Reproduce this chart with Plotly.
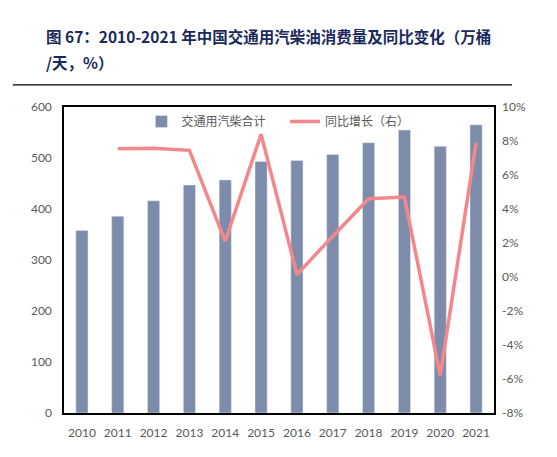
import plotly.graph_objects as go

years = ['2010', '2011', '2012', '2013', '2014', '2015',
         '2016', '2017', '2018', '2019', '2020', '2021']
consumption = [358, 386, 416, 447, 457, 493, 495, 507, 530, 555, 523, 565]
yoy_years = years[1:]
yoy_growth = [7.55, 7.58, 7.45, 2.1, 8.4, 0.15, 2.4, 4.6, 4.7, -5.8, 7.9]

left_ticks = [0, 100, 200, 300, 400, 500, 600]
right_ticks = [-8, -6, -4, -2, 0, 2, 4, 6, 8, 10]

title_lines = ['图 67：2010-2021 年中国交通用汽柴油消费量及同比变化（万桶', '/天，%）']

tick_font = {'family': 'Lato, Noto Sans CJK SC', 'size': 12, 'color': '#595959'}
legend_font = {'family': 'Noto Sans CJK SC', 'size': 12, 'color': '#595959'}
title_font = {'family': 'Noto Sans CJK SC', 'size': 15.5, 'color': '#1b2a5c'}

fig = go.Figure()

fig.add_trace(go.Bar(
    x=years,
    y=consumption,
    name='交通用汽柴合计',
    marker={'color': '#7d8cab'},
    width=0.34,
    legend='legend',
))

fig.add_trace(go.Scatter(
    x=yoy_years,
    y=yoy_growth,
    name='同比增长（右）',
    mode='lines',
    line={'color': '#f4878a', 'width': 3.5},
    yaxis='y2',
    legend='legend2',
))

# the page body has an 8px margin, so the plot box is set 8px up/left
fig.update_layout(
    width=557,
    height=457,
    margin={'l': 56, 'r': 71, 't': 99, 'b': 52, 'autoexpand': False},
    paper_bgcolor='white',
    plot_bgcolor='white',
    showlegend=True,
    legend={
        'x': 0.18, 'y': 1.0,
        'xanchor': 'left', 'yanchor': 'top',
        'font': legend_font,
        'bgcolor': 'rgba(0,0,0,0)',
        'itemwidth': 30,
    },
    legend2={
        'x': 0.514, 'y': 1.0,
        'xanchor': 'left', 'yanchor': 'top',
        'font': legend_font,
        'bgcolor': 'rgba(0,0,0,0)',
        'itemwidth': 30,
    },
    xaxis={
        'type': 'category',
        'tickfont': tick_font,
        'showline': True, 'linecolor': 'black', 'linewidth': 1.5,
        'mirror': True,
        'ticks': '',
        'showgrid': False,
        'automargin': False,
        'ticklabelstandoff': 8,
    },
    yaxis={
        'range': [0, 600],
        'tickvals': left_ticks,
        'tickfont': tick_font,
        'showline': True, 'linecolor': 'black', 'linewidth': 1.5,
        'mirror': True,
        'showgrid': False,
        'zeroline': False,
        'ticklabelstandoff': 8,
        'automargin': False,
    },
    yaxis2={
        'overlaying': 'y',
        'side': 'right',
        'range': [-8, 10],
        'tickvals': right_ticks,
        'ticktext': [f'{v}%' for v in right_ticks],
        'tickfont': tick_font,
        'showgrid': False,
        'zeroline': False,
        'ticklabelstandoff': 7,
        'automargin': False,
    },
    bargap=0.66,
)

# title block (two lines, placed separately for the wide line spacing)
for line, ypos in zip(title_lines, [1.232, 1.147]):
    fig.add_annotation(
        text=f'<b>{line}</b>',
        xref='paper', yref='paper',
        x=-0.046, y=ypos,
        xanchor='left', yanchor='middle',
        align='left',
        showarrow=False,
        font=title_font,
    )
fig.add_shape(
    type='line', xref='paper', yref='paper',
    x0=-0.119, x1=1.042, y0=1.072, y1=1.072,
    line={'color': 'black', 'width': 1.2},
)

fig.write_html('out.html')
